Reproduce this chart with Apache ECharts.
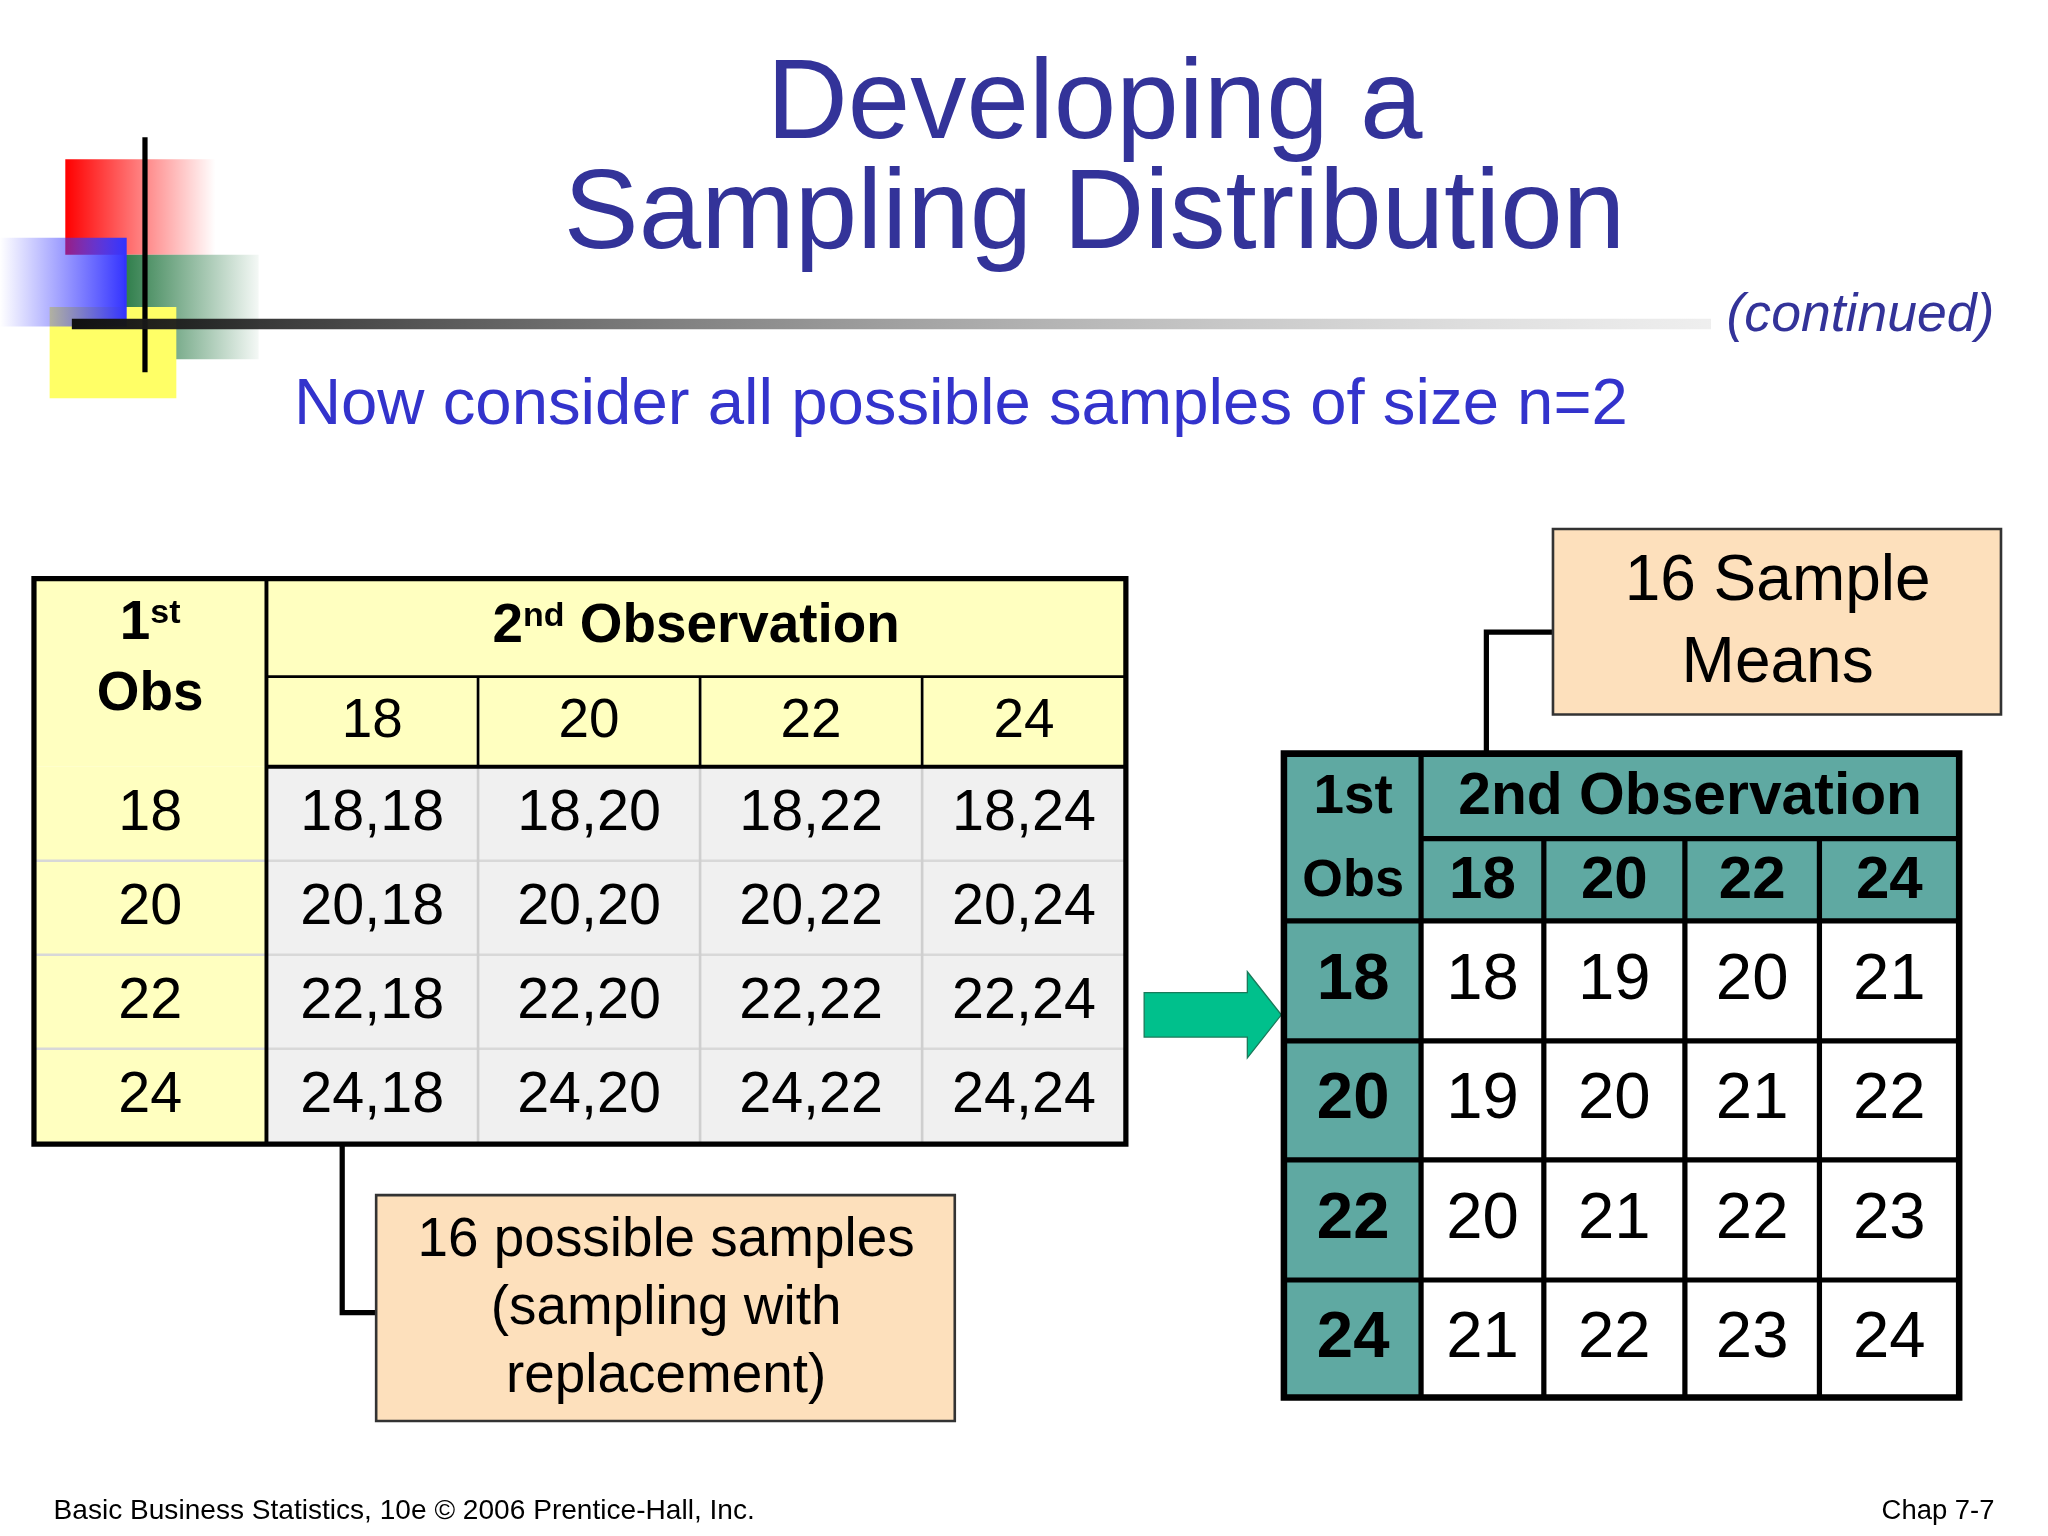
<!DOCTYPE html>
<html><head><meta charset="utf-8">
<script src="https://cdn.jsdelivr.net/npm/echarts@6/dist/echarts.min.js"></script>
<style>html,body{margin:0;background:#fff}#c{width:2048px;height:1536px}</style>
</head><body><div id="c"></div>
<script>
// values
const obsValues = ['18', '20', '22', '24'];
const pairRows = [
  ['18,18', '18,20', '18,22', '18,24'],
  ['20,18', '20,20', '20,22', '20,24'],
  ['22,18', '22,20', '22,22', '22,24'],
  ['24,18', '24,20', '24,22', '24,24']
];
const meanRows = [
  ['18', '19', '20', '21'],
  ['19', '20', '21', '22'],
  ['20', '21', '22', '23'],
  ['21', '22', '23', '24']
];

const FONT = 'Liberation Sans';
const S = 2048 / 1568;
const els = [];

function rect(x1, y1, x2, y2, fill, stroke, lw) {
  els.push({ type: 'rect', shape: { x: x1, y: y1, width: x2 - x1, height: y2 - y1 },
    style: { fill: fill || 'none', stroke: stroke || null, lineWidth: lw || 0 } });
}
function line(x1, y1, x2, y2, color, lw) {
  els.push({ type: 'line', shape: { x1, y1, x2, y2 }, style: { stroke: color, lineWidth: lw } });
}
function text(x, y, t, size, opts) {
  opts = opts || {};
  els.push({ type: 'text', x, y, style: Object.assign({ text: t, fontSize: size, fontFamily: FONT,
    fill: '#000', align: 'center', verticalAlign: 'middle' }, opts) });
}
function grad(c1, c2, horiz) {
  return { type: 'linear', x: 0, y: 0, x2: horiz ? 1 : 0, y2: horiz ? 0 : 1,
    colorStops: [{ offset: 0, color: c1 }, { offset: 1, color: c2 }] };
}

// decoration
rect(50, 122, 165, 195, grad('#ff0000', 'rgba(255,0,0,0)', true));
rect(95, 195, 198, 275, grad('#2e7d4a', 'rgba(46,125,74,0.05)', true));
rect(38, 235, 135, 305, '#ffff66');
rect(0, 182, 97, 250, grad('rgba(60,60,255,0)', '#3232ff', true));
line(111, 105, 111, 285, '#000', 4);
rect(55, 244, 1310, 252, grad('#111', 'rgba(200,200,200,0.3)', true));

// titles
text(838, 82, 'Developing a', 86, { fill: '#333399' });
text(838, 166, 'Sampling Distribution', 86, { fill: '#333399' });
text(1527, 242, '(continued)', 41, { fill: '#333399', align: 'right', fontStyle: 'italic' });
text(225, 311, 'Now consider all possible samples of size n=2', 50, { fill: '#3333cc', align: 'left' });

// left table
const LX = [26, 204, 366, 536, 706, 862];
const LY = [587, 659, 731, 803, 876];
rect(26, 443, 862, 587, '#ffffc0');
rect(26, 587, 204, 876, '#ffffc0');
rect(204, 587, 862, 876, '#f0f0f0');
for (let i = 1; i < 4; i++) line(26, LY[i], 862, LY[i], '#d8d8d8', 2);
for (let i = 2; i < 5; i++) line(LX[i], 518, LX[i], 876, '#cfcfcf', 2);
for (let i = 2; i < 5; i++) line(LX[i], 518, LX[i], 587, '#000', 2);
line(204, 443, 204, 876, '#000', 3);
line(204, 518, 862, 518, '#000', 2);
line(204, 587, 862, 587, '#000', 3);
rect(26, 443, 862, 876, null, '#000', 4);
els.push({ type: 'text', x: 115, y: 478, style: { text: '{b|1}{s|st}', align: 'center', verticalAlign: 'middle',
  rich: { b: { fontSize: 42, fontWeight: 'bold', fontFamily: FONT }, s: { fontSize: 26, fontWeight: 'bold', fontFamily: FONT, verticalAlign: 'top', padding: [0, 0, 16, 0] } } } });
text(115, 532, 'Obs', 42, { fontWeight: 'bold' });
els.push({ type: 'text', x: 533, y: 480, style: { text: '{b|2}{s|nd}{b| Observation}', align: 'center', verticalAlign: 'middle',
  rich: { b: { fontSize: 42, fontWeight: 'bold', fontFamily: FONT }, s: { fontSize: 26, fontWeight: 'bold', fontFamily: FONT, padding: [0, 0, 16, 0] } } } });
obsValues.forEach((v, j) => text((LX[j + 1] + LX[j + 2]) / 2, 553, v, 42));
obsValues.forEach((v, i) => text(115, (LY[i] + LY[i + 1]) / 2, v, 44));
pairRows.forEach((row, i) => row.forEach((v, j) =>
  text((LX[j + 1] + LX[j + 2]) / 2, (LY[i] + LY[i + 1]) / 2, v, 44)));

// lower callout
els.push({ type: 'polyline', shape: { points: [[262, 876], [262, 1005], [288, 1005]] }, style: { stroke: '#000', lineWidth: 4, fill: 'none' } });
rect(288, 915, 731, 1088, '#fde0bc', '#333', 2);
text(510, 950, '16 possible samples', 42);
text(510, 1002, '(sampling with', 42);
text(510, 1054, 'replacement)', 42);

// arrow
els.push({ type: 'polygon', shape: { points: [[876, 760], [955, 760], [955, 744], [981, 777], [955, 810], [955, 794], [876, 794]] },
  style: { fill: '#00c08c', stroke: '#1a7a5a', lineWidth: 1 } });

// right table
const RX = [983, 1088, 1182, 1290, 1393, 1500];
const RY = [705, 797, 888, 980, 1070];
const TEAL = '#5fa9a2';
rect(983, 577, 1500, 1070, TEAL);
rect(1088, 705, 1500, 1070, '#fff');
line(1088, 577, 1088, 1070, '#000', 4);
line(1088, 642, 1500, 642, '#000', 4);
for (let j = 2; j < 5; j++) line(RX[j], 642, RX[j], 1070, '#000', 4);
line(983, 705, 1500, 705, '#000', 4);
for (let i = 1; i < 4; i++) line(983, RY[i], 1500, RY[i], '#000', 4);
rect(983, 577, 1500, 1070, null, '#000', 5);
text(1036, 611, '1st', 42, { fontWeight: 'bold' });
text(1036, 675, 'Obs', 40, { fontWeight: 'bold' });
text(1294, 611, '2nd Observation', 45, { fontWeight: 'bold' });
obsValues.forEach((v, j) => text((RX[j + 1] + RX[j + 2]) / 2, 675, v, 46, { fontWeight: 'bold' }));
obsValues.forEach((v, i) => text(1036, (RY[i] + RY[i + 1]) / 2, v, 50, { fontWeight: 'bold' }));
meanRows.forEach((row, i) => row.forEach((v, j) =>
  text((RX[j + 1] + RX[j + 2]) / 2, (RY[i] + RY[i + 1]) / 2, v, 50)));

// upper callout
els.push({ type: 'polyline', shape: { points: [[1189, 484], [1138, 484], [1138, 577]] }, style: { stroke: '#000', lineWidth: 4, fill: 'none' } });
rect(1189, 405, 1532, 547, '#fde0bc', '#333', 2);
text(1361, 446, '16 Sample', 49);
text(1361, 509, 'Means', 49);

// footer
text(41, 1157, 'Basic Business Statistics, 10e \u00a9 2006 Prentice-Hall, Inc.', 21.5, { align: 'left' });
text(1527, 1157, 'Chap 7-7', 21, { align: 'right' });

const chart = echarts.init(document.getElementById('c'));
chart.setOption({
  animation: false,
  backgroundColor: '#fff',
  graphic: [{ type: 'group', scaleX: S, scaleY: S, children: els }]
});
</script>
</body></html>
